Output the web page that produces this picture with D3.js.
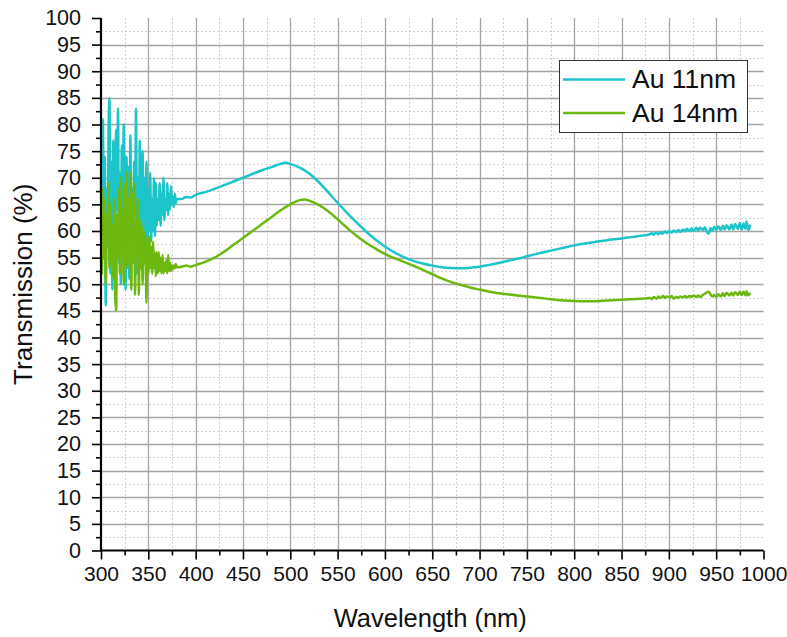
<!DOCTYPE html>
<html>
<head>
<meta charset="utf-8">
<script src="https://cdn.jsdelivr.net/npm/d3@7"></script>
<style>
  html, body { margin: 0; padding: 0; background: #fff; }
  svg { display: block; font-family: "Liberation Sans", Arial, sans-serif; }
</style>
</head>
<body>
<svg id="chart" width="787" height="637"></svg>
<script>
// ---- data -------------------------------------------------------------
const seriesNames = ["Au 11nm", "Au 14nm"];
const seriesColors = ["#1dc4c9", "#6cb80f"];

// noisy UV region, 1 nm steps from 300 nm
const noisyStart = 300;
const au11Noisy = [
  70, 58, 81, 55, 74, 46, 68, 60, 79, 85, 52, 73, 49, 77, 62, 56, 79, 64, 83, 54,
  71, 50, 76, 58, 80, 66, 49, 74, 61, 72, 51, 78, 60, 68, 55, 73, 63, 83, 52, 70,
  58, 77, 56, 69, 75, 55, 70, 59, 73, 57, 68, 60, 71, 58, 66, 60, 70, 59, 69, 61,
  66, 62, 69, 61, 67, 63, 70, 62, 66, 64, 69, 63, 67, 64, 68.5, 65, 66.5, 64.5, 67, 65.2,
  66
];
const au14Noisy = [
  62, 52, 68, 55, 66, 50, 63, 57, 69, 53, 65, 56, 61, 51, 66, 48, 45, 63, 55, 68,
  52, 70, 57, 64, 50, 69, 55, 71, 53, 66, 58, 71, 49, 67, 54, 69, 48, 62, 56, 66,
  48, 62, 53, 61, 50, 60, 54, 59, 46.5, 58, 52, 59, 53, 57, 52, 58, 53, 56, 51.5, 56,
  52, 56, 52.5, 55, 52, 55.5, 52, 54, 52.5, 54.5, 52, 55.5, 52.5, 54, 52.5, 53.5, 52.8, 53.5, 53, 53.8,
  53.2
];

// visible / near-IR region, [wavelength, transmission]
const au11Smooth = [
  [385, 66.0], [390, 66.4], [395, 66.3], [400, 66.8], [410, 67.3], [420, 67.9],
  [430, 68.6], [440, 69.3], [450, 70.0], [460, 70.7], [470, 71.4], [480, 72.0],
  [490, 72.6], [495, 72.8], [500, 72.6], [510, 71.9], [520, 70.8], [530, 69.2],
  [540, 67.3], [550, 65.3], [560, 63.4], [570, 61.6], [580, 59.9], [590, 58.4],
  [600, 57.1], [610, 56.0], [620, 55.1], [630, 54.4], [640, 53.9], [650, 53.5],
  [660, 53.2], [670, 53.05], [680, 53.0], [690, 53.1], [700, 53.3], [710, 53.6],
  [720, 54.0], [730, 54.4], [740, 54.8], [750, 55.25], [760, 55.7], [770, 56.1],
  [780, 56.5], [790, 56.9], [800, 57.3], [810, 57.6], [820, 57.9], [830, 58.15],
  [840, 58.4], [850, 58.6], [860, 58.85], [870, 59.1],
  [880, 59.4], [882, 59.6], [884, 59.3], [886, 59.7], [889, 59.4], [891, 59.8],
  [893, 59.5], [896, 59.9], [898, 59.6], [900, 60.0], [903, 59.7], [905, 60.1],
  [908, 59.8], [910, 60.2], [912, 59.8], [915, 60.3], [917, 59.9], [919, 60.4],
  [922, 60.0], [924, 60.5], [926, 60.0], [929, 60.6], [931, 60.1], [933, 60.6],
  [936, 60.2], [938, 60.7], [940, 59.9], [942, 59.5], [944, 60.5], [946, 60.1],
  [948, 60.8], [950, 60.2], [952, 60.9], [955, 60.2], [957, 61.0], [959, 60.3],
  [961, 61.1], [964, 60.3], [966, 61.2], [968, 60.3], [970, 61.3], [973, 60.4],
  [975, 61.5], [977, 60.3], [979, 61.4], [981, 60.4], [982, 61.8], [984, 60.2],
  [986, 61.2]
];
const au14Smooth = [
  [385, 53.3], [390, 53.5], [395, 53.3], [400, 53.6], [410, 54.2], [420, 55.0],
  [430, 56.1], [440, 57.4], [450, 58.7], [460, 60.0], [470, 61.3], [480, 62.6],
  [490, 63.9], [500, 65.0], [510, 65.8], [515, 65.9], [520, 65.7], [530, 64.9],
  [540, 63.7], [550, 62.2], [560, 60.6], [570, 59.1], [580, 57.8], [590, 56.7],
  [600, 55.7], [610, 54.9], [620, 54.2], [630, 53.5], [640, 52.7], [650, 51.9],
  [660, 51.1], [670, 50.4], [680, 49.9], [690, 49.4], [700, 49.0], [710, 48.6],
  [720, 48.3], [730, 48.1], [740, 47.9], [750, 47.7], [760, 47.5], [770, 47.3],
  [780, 47.1], [790, 46.95], [800, 46.85], [810, 46.8], [820, 46.8], [830, 46.9],
  [840, 47.0], [850, 47.1], [860, 47.2], [870, 47.3],
  [880, 47.4], [882, 47.2], [884, 47.6], [887, 47.3], [889, 47.7], [891, 47.4],
  [894, 47.8], [896, 47.4], [898, 47.7], [901, 47.5], [903, 47.8], [905, 47.3],
  [908, 47.6], [910, 47.4], [912, 47.7], [915, 47.5], [917, 47.8], [919, 47.5],
  [922, 47.8], [924, 47.6], [926, 47.9], [929, 47.6], [931, 47.9], [933, 47.6],
  [936, 48.0], [938, 48.2], [940, 48.5], [942, 48.6], [944, 48.1], [946, 47.7],
  [948, 48.0], [950, 47.6], [952, 48.1], [955, 47.7], [957, 48.3], [959, 47.8],
  [961, 48.4], [964, 47.9], [966, 48.4], [968, 47.9], [970, 48.5], [973, 48.0],
  [975, 48.6], [977, 48.0], [979, 48.6], [981, 47.9], [982, 48.7], [984, 47.9],
  [986, 48.4]
];

const xMajorTicks = [300, 350, 400, 450, 500, 550, 600, 650, 700, 750, 800, 850, 900, 950, 1000];
const yMajorTicks = [0, 5, 10, 15, 20, 25, 30, 35, 40, 45, 50, 55, 60, 65, 70, 75, 80, 85, 90, 95, 100];

// ---- layout -----------------------------------------------------------
const svg = d3.select("#chart");
const plotLeft = 101, plotRight = 763.5, plotTop = 18, plotBottom = 550.5;

const x = d3.scaleLinear().domain([300, 1000]).range([plotLeft, plotRight]);
const y = d3.scaleLinear().domain([0, 100]).range([plotBottom, plotTop]);

const xMinorTicks = xMajorTicks.slice(0, -1).map(v => v + 25);
const yMinorTicks = yMajorTicks.slice(0, -1).map(v => v + 2.5);

// ---- grid -------------------------------------------------------------
const grid = svg.append("g");
grid.selectAll("line.xminor").data(xMinorTicks).join("line")
  .attr("x1", d => Math.round(x(d)) + 0.5).attr("x2", d => Math.round(x(d)) + 0.5)
  .attr("y1", plotTop).attr("y2", plotBottom)
  .attr("stroke", "#d2d2d2").attr("stroke-width", 1).attr("stroke-dasharray", "2,2");
grid.selectAll("line.yminor").data(yMinorTicks).join("line")
  .attr("y1", d => Math.round(y(d)) + 0.5).attr("y2", d => Math.round(y(d)) + 0.5)
  .attr("x1", plotLeft).attr("x2", plotRight)
  .attr("stroke", "#d2d2d2").attr("stroke-width", 1).attr("stroke-dasharray", "2,2");
grid.selectAll("line.xmajor").data(xMajorTicks.slice(1, -1)).join("line")
  .attr("x1", d => Math.round(x(d)) + 0.5).attr("x2", d => Math.round(x(d)) + 0.5)
  .attr("y1", plotTop).attr("y2", plotBottom)
  .attr("stroke", "#a4a4a4").attr("stroke-width", 1.3);
grid.selectAll("line.ymajor").data(yMajorTicks.slice(1, -1)).join("line")
  .attr("y1", d => Math.round(y(d)) + 0.5).attr("y2", d => Math.round(y(d)) + 0.5)
  .attr("x1", plotLeft).attr("x2", plotRight)
  .attr("stroke", "#a4a4a4").attr("stroke-width", 1.3);

// ---- series -----------------------------------------------------------
function buildSeries(noisy, smooth) {
  const pts = noisy.map((v, i) => [noisyStart + i, v]);
  return pts.concat(smooth);
}
const series = [
  buildSeries(au11Noisy, au11Smooth),
  buildSeries(au14Noisy, au14Smooth)
];

const line = d3.line()
  .x(d => x(d[0]))
  .y(d => y(d[1]))
  .curve(d3.curveMonotoneX);

svg.append("g").selectAll("path").data(series).join("path")
  .attr("d", line)
  .attr("fill", "none")
  .attr("stroke", (d, i) => seriesColors[i])
  .attr("stroke-width", 2.5)
  .attr("stroke-linejoin", "round");

// ---- axes -------------------------------------------------------------
const xAxis = svg.append("g").attr("transform", `translate(0,${plotBottom})`)
  .call(d3.axisBottom(x).tickValues(xMajorTicks).tickFormat(d3.format("d")).tickSize(9).tickPadding(7));
svg.append("g").attr("transform", `translate(0,${plotBottom})`)
  .call(d3.axisBottom(x).tickValues(xMinorTicks).tickFormat("").tickSize(5))
  .call(g => g.select(".domain").remove());

const yAxis = svg.append("g").attr("transform", `translate(${plotLeft},0)`)
  .call(d3.axisLeft(y).tickValues(yMajorTicks).tickFormat(d3.format("d")).tickSize(9).tickPadding(11));
svg.append("g").attr("transform", `translate(${plotLeft},0)`)
  .call(d3.axisLeft(y).tickValues(yMinorTicks).tickFormat("").tickSize(5))
  .call(g => g.select(".domain").remove());

svg.selectAll(".tick line").attr("stroke", "#000").attr("stroke-width", 1.6);
[xAxis, yAxis].forEach(g => {
  g.select(".domain").attr("stroke", "#000").attr("stroke-width", 2.2);
  g.selectAll(".tick text")
    .attr("font-family", "'Liberation Sans', Arial, sans-serif")
    .attr("fill", "#111");
});
xAxis.selectAll(".tick text").attr("font-size", 21);
yAxis.selectAll(".tick text").attr("font-size", 21.5);
// plain axis lines without end caps
xAxis.select(".domain").attr("d", `M${plotLeft},0H${plotRight}`);
yAxis.select(".domain").attr("d", `M0,${plotTop}V${plotBottom}`);

// axis titles
svg.append("text")
  .attr("x", (plotLeft + plotRight) / 2 - 2).attr("y", 627)
  .attr("text-anchor", "middle")
  .attr("font-size", 25.5).attr("fill", "#111")
  .text("Wavelength (nm)");
svg.append("text")
  .attr("transform", `translate(32,${(plotTop + plotBottom) / 2}) rotate(-90)`)
  .attr("text-anchor", "middle")
  .attr("font-size", 26).attr("fill", "#111")
  .text("Transmission (%)");

// ---- legend -----------------------------------------------------------
const legend = svg.append("g");
legend.append("rect")
  .attr("x", 559.5).attr("y", 60.5).attr("width", 188).attr("height", 72)
  .attr("fill", "#fff").attr("stroke", "#333").attr("stroke-width", 1);
seriesNames.forEach((name, i) => {
  const ly = 79.5 + i * 33.5;
  legend.append("line")
    .attr("x1", 563).attr("x2", 625).attr("y1", ly).attr("y2", ly)
    .attr("stroke", seriesColors[i]).attr("stroke-width", 2.5);
  legend.append("text")
    .attr("x", 632).attr("y", ly + 8.5)
    .attr("font-size", 26.5).attr("fill", "#111")
    .text(name);
});
</script>
</body>
</html>
